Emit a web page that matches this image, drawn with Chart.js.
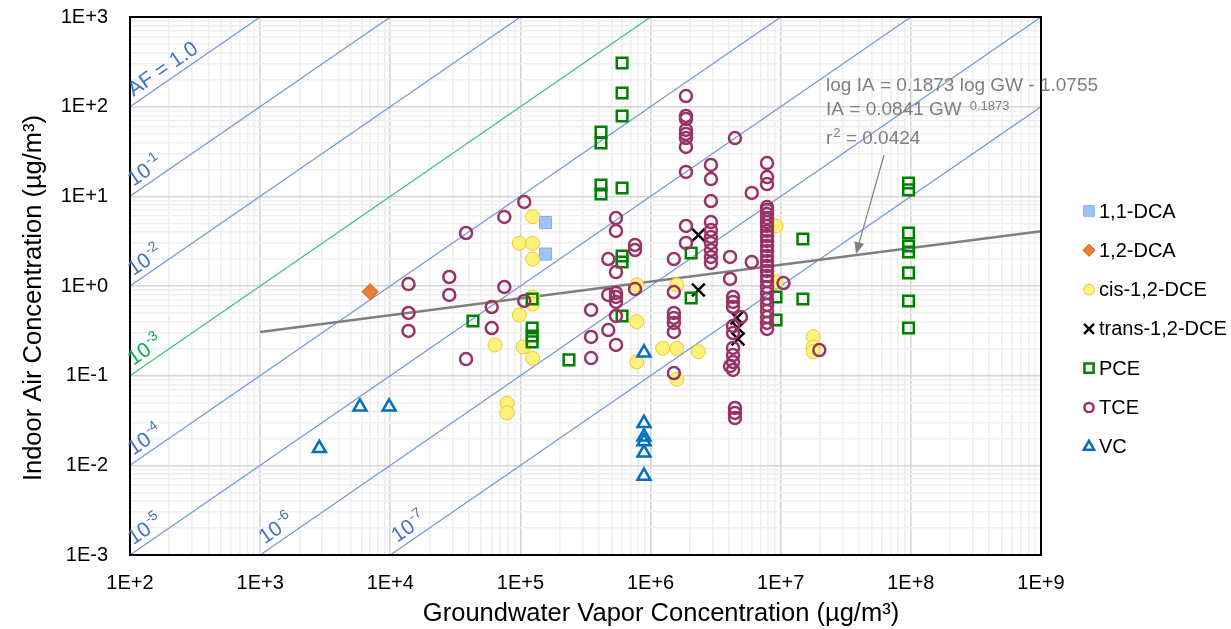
<!DOCTYPE html>
<html><head><meta charset="utf-8">
<script src="https://cdn.jsdelivr.net/npm/chart.js@4.4.1/dist/chart.umd.min.js"></script>
<style>html,body{margin:0;padding:0;background:#fff}canvas{display:block}</style>
</head><body>
<canvas id="c" width="1231" height="629"></canvas>
<script>
const FONT = "'Liberation Sans', Arial, sans-serif";

// ---- tick labels ----
const xTickValues = [1e2, 1e3, 1e4, 1e5, 1e6, 1e7, 1e8, 1e9];
const xTickLabels = ['1E+2','1E+3','1E+4','1E+5','1E+6','1E+7','1E+8','1E+9'];
const yTickValues = [1e-3, 1e-2, 1e-1, 1e0, 1e1, 1e2, 1e3];
const yTickLabels = ['1E-3','1E-2','1E-1','1E+0','1E+1','1E+2','1E+3'];

// ---- series ----
const seriesNames = ['1,1-DCA','1,2-DCA','cis-1,2-DCE','trans-1,2-DCE','PCE','TCE','VC'];

const dca11X = [1.56e5, 1.56e5];
const dca11Y = [5.1, 2.27];

const dca12X = [7.0e3];
const dca12Y = [0.865];

const cisX = [1.24e5, 9.8e4, 1.24e5, 1.24e5, 1.24e5, 1.24e5, 9.8e4, 6.38e4, 1.05e5, 1.24e5, 7.89e4, 7.89e4,
              7.83e5, 7.83e5, 7.83e5, 1.24e6, 1.59e6, 1.59e6, 2.33e6, 1.59e6, 9.2e6, 9.2e6, 1.78e7, 1.78e7, 1.78e7];
const cisY = [5.93, 2.99, 2.99, 1.99, 0.748, 0.63, 0.475, 0.22, 0.209, 0.156, 0.0492, 0.0384,
              1.03, 0.40, 0.142, 0.202, 0.202, 1.03, 0.185, 0.0912, 4.67, 1.11, 0.272, 0.209, 0.185];

const transX = [2.33e6, 2.33e6, 4.6e6, 4.7e6, 4.7e6];
const transY = [3.7, 0.90, 0.44, 0.34, 0.256];

const pceX = [6.04e5, 6.04e5, 6.04e5, 4.16e5, 4.16e5, 4.16e5, 4.16e5, 6.04e5, 6.04e5, 6.04e5, 2.05e6, 1.48e7,
              9.6e7, 9.6e7, 9.6e7, 9.6e7, 9.6e7, 9.6e7, 9.6e7, 9.6e7, 1.48e7, 9.2e6, 9.2e6, 2.05e6, 6.04e5,
              2.36e5, 1.23e5, 1.23e5, 1.23e5, 1.23e5, 4.32e4];
const pceY = [307, 142, 78.7, 52.2, 39.3, 13.4, 10.6, 12.4, 2.16, 1.85, 2.33, 3.34,
              14.1, 11.8, 3.90, 2.79, 2.39, 1.40, 0.681, 0.340, 0.716, 0.754, 0.418, 0.735, 0.463,
              0.150, 0.716, 0.340, 0.277, 0.238, 0.407];

const tceX = [
  1.38e4, 1.38e4, 1.38e4, 2.84e4, 2.84e4, 3.82e4, 3.82e4, 6.02e4, 6.02e4, 7.52e4, 7.52e4, 1.07e5, 1.07e5,
  3.49e5, 3.49e5, 3.49e5, 4.73e5, 4.73e5, 4.73e5, 5.42e5, 5.42e5, 5.42e5, 5.42e5, 5.42e5, 5.42e5, 5.42e5, 5.42e5,
  7.59e5, 7.59e5, 7.59e5,
  1.87e6, 1.87e6, 1.87e6, 1.87e6, 1.87e6, 1.87e6, 1.87e6, 1.87e6, 1.87e6, 1.87e6,
  1.51e6, 1.51e6, 1.51e6, 1.51e6, 1.51e6, 1.51e6, 1.51e6,
  2.91e6, 2.91e6, 2.91e6, 2.91e6, 2.91e6, 2.91e6, 2.91e6, 2.91e6, 2.91e6, 2.91e6,
  4.45e6, 5.99e6, 5.99e6, 4.08e6, 4.08e6, 4.30e6, 4.30e6, 4.30e6, 4.95e6, 4.30e6, 4.30e6, 4.30e6, 4.30e6, 4.30e6,
  4.08e6, 4.30e6, 4.45e6, 4.45e6, 4.45e6,
  7.85e6, 7.85e6, 7.85e6, 7.85e6, 7.85e6, 7.85e6, 7.85e6, 7.85e6, 7.85e6, 7.85e6, 7.85e6, 7.85e6, 7.85e6, 7.85e6,
  7.85e6, 7.85e6, 7.85e6, 7.85e6, 7.85e6, 7.85e6, 7.85e6, 7.85e6, 7.85e6, 7.85e6, 7.85e6, 7.85e6, 7.85e6, 7.85e6,
  1.05e7, 1.98e7];
const tceY = [
  1.05, 0.50, 0.315, 1.26, 0.794, 3.90, 0.153, 0.583, 0.340, 5.89, 0.975, 8.65, 0.681,
  0.540, 0.270, 0.157, 2.00, 0.794, 0.323, 5.73, 4.11, 1.43, 0.836, 0.754, 0.664, 0.463, 0.220,
  2.87, 2.52, 0.927,
  131.5, 78.7, 72.9, 55.0, 49.6, 44.7, 35.5, 18.7, 4.67, 3.02,
  2.00, 0.857, 0.500, 0.440, 0.387, 0.307, 0.107,
  22.4, 15.6, 8.87, 5.17, 4.21, 3.52, 3.02, 2.52, 2.11, 1.81,
  44.7, 10.9, 1.85, 2.11, 1.20, 0.754, 0.664, 0.583, 0.451, 0.358, 0.299, 0.204, 0.170, 0.142,
  0.128, 0.116, 0.0436, 0.0384, 0.0337,
  23.5, 16.4, 13.7, 7.60, 7.05, 6.35, 5.73, 5.17, 4.67, 4.11, 3.61, 3.18, 2.79, 2.46,
  2.16, 1.90, 1.67, 1.47, 1.29, 1.14, 0.975, 0.836, 0.716, 0.614, 0.526, 0.451, 0.387, 0.332,
  1.08, 0.193];

const vcX = [2.85e3, 5.85e3, 9.8e3, 8.9e5, 8.9e5, 8.9e5, 8.9e5, 8.9e5, 8.9e5];
const vcY = [0.0155, 0.045, 0.045, 0.18, 0.0294, 0.0209, 0.0184, 0.0138, 0.0076];

// regression line (end points)
const trendX = [1e3, 1e9];
const trendY = [0.306, 4.07];
const trendText = ['log IA = 0.1873 log GW - 1.0755', 'IA = 0.0841 GW', '0.1873', 'r', '2', ' = 0.0424'];
const trendTextAt = [2.23e7, 150];
const arrowFrom = [6.22e7, 28.9];
const arrowTo = [3.79e7, 2.27];

// attenuation-factor reference lines (end points)
const afLineX = [[1e2, 1e3], [1e2, 1e4], [1e2, 1e5], [1e2, 1e6], [1e2, 1e7], [1e2, 1e8], [1e3, 1e9], [1e4, 1e9]];
const afLineY = [[1e2, 1e3], [1e1, 1e3], [1e0, 1e3], [1e-1, 1e3], [1e-2, 1e3], [1e-3, 1e3], [1e-3, 1e3], [1e-3, 1e2]];
const afLabelBase = ['AF = 1.0', '10', '10', '10', '10', '10', '10', '10'];
const afLabelSup = ['', '-1', '-2', '-3', '-4', '-5', '-6', '-7'];
const afLabelX = [1.13e2, 1.13e2, 1.13e2, 1.13e2, 1.13e2, 1.13e2, 1.15e3, 1.2e4];

// ---- styles ----
const AF_BLUE = '#7096d9', AF_GREEN = '#3cc17a';
const AF_TXT_BLUE = '#4472c4', AF_TXT_GREEN = '#00b050';

const pts = (xs, ys) => xs.map((x, i) => ({x: x, y: ys[i]}));
const isDecade = v => { const l = Math.log10(v); return Math.abs(l - Math.round(l)) < 1e-6; };
function logTicks(min, max) {
  const t = [];
  for (let e = Math.round(Math.log10(min)); e <= Math.round(Math.log10(max)); e++) {
    for (let m = 1; m <= 9; m++) {
      const v = m * Math.pow(10, e);
      if (v >= min * 0.999999 && v <= max * 1.000001) t.push({value: v, major: m === 1});
    }
  }
  return t;
}
function labelFor(vals, labels, v) {
  const i = vals.findIndex(t => Math.abs(Math.log10(t) - Math.log10(v)) < 1e-6);
  return i >= 0 ? labels[i] : '';
}

const markerStyles = [
  {pointStyle: 'rect', radius: 8.5, bg: '#9ec5f8', border: '#82aef0', bw: 1, legR: 7.5},
  {pointStyle: 'rectRot', radius: 8, bg: '#ed7d31', border: '#c55a11', bw: 1, legR: 6},
  {pointStyle: 'circle', radius: 7, bg: '#fff27a', border: '#efc638', bw: 1, legR: 5.5},
  {pointStyle: 'crossRot', radius: 9, bg: 'rgba(0,0,0,0)', border: '#000000', bw: 2.5, legR: 7},
  {pointStyle: 'rect', radius: 7.5, bg: 'rgba(0,0,0,0)', border: '#008000', bw: 2.5, legR: 6.5},
  {pointStyle: 'circle', radius: 6, bg: 'rgba(0,0,0,0)', border: '#993366', bw: 2.5, legR: 4.6},
  {pointStyle: 'triangle', radius: 7.5, bg: 'rgba(0,0,0,0)', border: '#0070c0', bw: 2.5, legR: 6}
];
const seriesData = [pts(dca11X, dca11Y), pts(dca12X, dca12Y), pts(cisX, cisY), pts(transX, transY),
                    pts(pceX, pceY), pts(tceX, tceY), pts(vcX, vcY)];

const datasets = [];
afLineX.forEach((xs, i) => {
  datasets.push({label: 'AF ' + i, data: pts(xs, afLineY[i]), showLine: true, pointRadius: 0,
    borderColor: i === 3 ? AF_GREEN : AF_BLUE, borderWidth: 1.2, order: 100});
});
datasets.push({label: 'trend', data: pts(trendX, trendY), showLine: true, pointRadius: 0,
  borderColor: '#7f7f7f', borderWidth: 2.5, order: 50});
seriesNames.forEach((n, i) => {
  const s = markerStyles[i];
  datasets.push({label: n, data: seriesData[i], showLine: false, pointStyle: s.pointStyle,
    pointRadius: s.radius, pointHoverRadius: s.radius, pointBackgroundColor: s.bg,
    pointBorderColor: s.border, pointBorderWidth: s.bw, pointHoverBorderWidth: s.bw, order: 10 - i});
});

const decor = {
  id: 'decor',
  afterDatasetsDraw(chart) {
    const {ctx, chartArea: a} = chart;
    const x = chart.scales.x, y = chart.scales.y;
    ctx.save();
    // plot frame
    ctx.strokeStyle = '#000'; ctx.lineWidth = 2;
    ctx.strokeRect(a.left, a.top, a.right - a.left, a.bottom - a.top);

    // AF labels
    const ang = Math.atan2(y.getPixelForValue(1) - y.getPixelForValue(10),
                           x.getPixelForValue(1e3) - x.getPixelForValue(1e2));
    afLabelBase.forEach((base, i) => {
      const x0 = Math.log10(afLineX[i][0]), x1 = Math.log10(afLineX[i][1]);
      const y0 = Math.log10(afLineY[i][0]), y1 = Math.log10(afLineY[i][1]);
      const lx = afLabelX[i];
      const ly = Math.pow(10, y0 + (Math.log10(lx) - x0) * (y1 - y0) / (x1 - x0));
      ctx.save();
      ctx.translate(x.getPixelForValue(lx), y.getPixelForValue(ly));
      ctx.rotate(-ang);
      ctx.fillStyle = i === 3 ? AF_TXT_GREEN : AF_TXT_BLUE;
      ctx.textAlign = 'left'; ctx.textBaseline = 'alphabetic';
      ctx.font = '21px ' + FONT;
      ctx.fillText(base, 0, -6);
      if (afLabelSup[i]) {
        const w = ctx.measureText(base).width;
        ctx.font = '14px ' + FONT;
        ctx.fillText(afLabelSup[i], w + 1, -15);
      }
      ctx.restore();
    });

    // regression annotation
    const tx = x.getPixelForValue(trendTextAt[0]), ty = y.getPixelForValue(trendTextAt[1]);
    ctx.fillStyle = '#7f7f7f'; ctx.textAlign = 'left'; ctx.textBaseline = 'alphabetic';
    ctx.font = '19px ' + FONT;
    ctx.fillText(trendText[0], tx, ty);
    ctx.fillText(trendText[1], tx, ty + 24);
    let w = ctx.measureText(trendText[1]).width;
    ctx.font = '13px ' + FONT;
    ctx.fillText(trendText[2], tx + w + 8, ty + 19);
    ctx.font = '19px ' + FONT;
    ctx.fillText(trendText[3], tx, ty + 53);
    w = ctx.measureText(trendText[3]).width;
    ctx.font = '13px ' + FONT;
    ctx.fillText(trendText[4], tx + w + 1, ty + 46);
    const w2 = ctx.measureText(trendText[4]).width;
    ctx.font = '19px ' + FONT;
    ctx.fillText(trendText[5], tx + w + 1 + w2, ty + 53);

    // arrow
    const ax0 = x.getPixelForValue(arrowFrom[0]), ay0 = y.getPixelForValue(arrowFrom[1]);
    const ax1 = x.getPixelForValue(arrowTo[0]), ay1 = y.getPixelForValue(arrowTo[1]);
    const aa = Math.atan2(ay1 - ay0, ax1 - ax0);
    ctx.strokeStyle = '#808080'; ctx.fillStyle = '#808080'; ctx.lineWidth = 1.2;
    ctx.beginPath(); ctx.moveTo(ax0, ay0);
    ctx.lineTo(ax1 - 10 * Math.cos(aa), ay1 - 10 * Math.sin(aa)); ctx.stroke();
    ctx.beginPath(); ctx.moveTo(ax1, ay1);
    ctx.lineTo(ax1 - 12 * Math.cos(aa) + 5 * Math.sin(aa), ay1 - 12 * Math.sin(aa) - 5 * Math.cos(aa));
    ctx.lineTo(ax1 - 12 * Math.cos(aa) - 5 * Math.sin(aa), ay1 - 12 * Math.sin(aa) + 5 * Math.cos(aa));
    ctx.closePath(); ctx.fill();

    // legend
    const legX = a.right + 48, legY0 = 211, legStep = 39.3;
    seriesNames.forEach((n, i) => {
      const s = markerStyles[i];
      const cy = legY0 + i * legStep;
      ctx.fillStyle = s.bg; ctx.strokeStyle = s.border; ctx.lineWidth = s.bw;
      if (Chart.helpers && Chart.helpers.drawPoint) {
        Chart.helpers.drawPoint(ctx, {pointStyle: s.pointStyle, rotation: 0, radius: s.legR, borderWidth: s.bw}, legX, cy);
      }
      ctx.fillStyle = '#000'; ctx.font = '20px ' + FONT; ctx.textAlign = 'left'; ctx.textBaseline = 'middle';
      ctx.fillText(n, legX + 10, cy + 1);
    });

    // axis titles
    ctx.fillStyle = '#000'; ctx.textBaseline = 'alphabetic'; ctx.textAlign = 'center';
    ctx.font = '25.5px ' + FONT;
    ctx.fillText('Groundwater Vapor Concentration (µg/m³)', 661, 621);
    ctx.save();
    ctx.translate(41, 298); ctx.rotate(-Math.PI / 2);
    ctx.fillText('Indoor Air Concentration (µg/m³)', 0, 0);
    ctx.restore();
    ctx.restore();
  }
};

new Chart(document.getElementById('c'), {
  type: 'scatter',
  data: {datasets: datasets},
  options: {
    responsive: false, animation: false, devicePixelRatio: 1,
    layout: {padding: {left: 0, right: 190, top: 17, bottom: 0}},
    plugins: {legend: {display: false}, tooltip: {enabled: false}},
    scales: {
      x: {
        type: 'logarithmic', min: 1e2, max: 1e9,
        afterBuildTicks: s => { s.ticks = logTicks(1e2, 1e9); },
        afterFit: s => { s.height = 74; s.paddingLeft = 0; s.paddingRight = 0; },
        grid: {color: c => (c.tick && isDecade(c.tick.value)) ? '#d6d6d6' : '#efefef', lineWidth: 1.6, drawTicks: false},
        border: {display: true, color: '#000', width: 2},
        ticks: {autoSkip: false, maxRotation: 0, minRotation: 0, padding: 16, color: '#000',
          font: {size: 20, family: FONT}, callback: v => labelFor(xTickValues, xTickLabels, v)}
      },
      y: {
        type: 'logarithmic', min: 1e-3, max: 1e3,
        afterBuildTicks: s => { s.ticks = logTicks(1e-3, 1e3); },
        afterFit: s => { s.width = 130; s.paddingTop = 0; s.paddingBottom = 0; },
        grid: {color: c => (c.tick && isDecade(c.tick.value)) ? '#d6d6d6' : '#efefef', lineWidth: 1.6, drawTicks: false},
        border: {display: true, color: '#000', width: 2},
        ticks: {autoSkip: false, padding: 22, color: '#000',
          font: {size: 20, family: FONT}, callback: v => labelFor(yTickValues, yTickLabels, v)}
      }
    }
  },
  plugins: [decor]
});
</script>
</body></html>
